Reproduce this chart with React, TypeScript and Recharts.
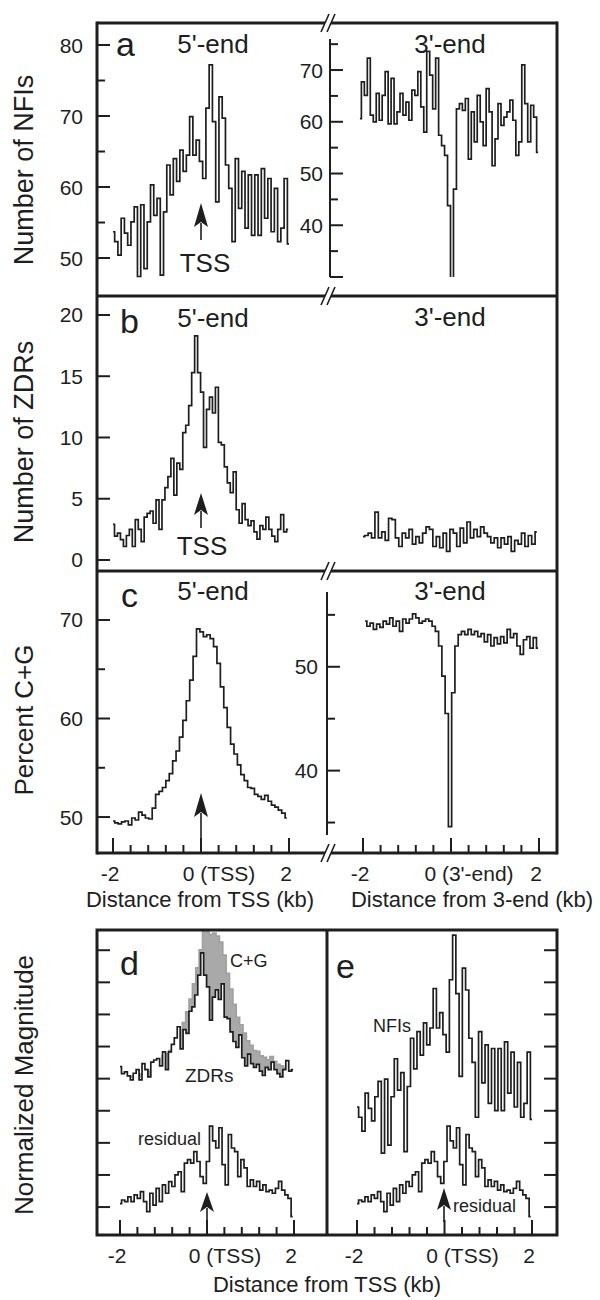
import React from "react";
import { LineChart, AreaChart, Line, Area, XAxis, YAxis } from "recharts";

const PAGE_W = 600;
const PAGE_H = 1300;
const FONT = "'Liberation Sans', Arial, Helvetica, sans-serif";
const INK = "#1e1e1e";

// NFIs per bin around the 5'-end (TSS), -2..2 kb
const nfi5 = [53.7, 52.3, 50.4, 55.6, 53.5, 51.8, 55.1, 57.2, 47.4, 57.5, 48.5, 55.1, 60.3, 56, 58.4, 47.6, 56.5, 63.1, 58.9, 64, 60.8, 65.2, 62.2, 64.5, 69.9, 64.5, 66.6, 63.6, 61.2, 71.1, 77.2, 69.2, 57.9, 72.7, 69.7, 63.1, 59.8, 52.3, 64, 57, 62.2, 54.2, 61.7, 53.2, 61.7, 53.2, 62.6, 55.6, 61.2, 53.7, 59.8, 52.3, 54.2, 61.2, 52];
// NFIs around the 3'-end
const nfi3 = [60.6, 67.7, 65.1, 72.3, 61.3, 60, 65.5, 60.3, 65.1, 69.7, 59.6, 68.4, 59.6, 61.9, 65.5, 61.3, 63.8, 60.3, 66.1, 65.1, 69.7, 62.9, 58, 73.6, 69, 62.5, 72.3, 57.4, 55.4, 53.5, 43.8, 29.5, 47, 62.5, 63.5, 62.2, 64.5, 52.8, 61.9, 56.1, 65.1, 60, 55.4, 66.4, 61.9, 51.5, 56.7, 63.5, 59.3, 60.9, 61.9, 64.2, 60.3, 53.5, 56.1, 71, 63.5, 56.1, 63.2, 60.9, 54.1];
// ZDRs
const zdr5 = [2.9, 1.95, 2.2, 1.66, 1.1, 2.0, 2.5, 1.1, 3.3, 2.5, 1.5, 3.5, 3.8, 4.0, 3.0, 4.9, 2.5, 4.9, 5.9, 6.8, 8.3, 5.3, 7.9, 7.4, 10.4, 11.0, 12.6, 15.3, 18.3, 15.3, 13.7, 9.2, 12.3, 13.3, 12.0, 14.1, 9.6, 9.4, 7.6, 6.3, 5.5, 7.2, 4.1, 3.0, 4.6, 3.3, 2.8, 3.2, 2.3, 1.7, 2.8, 2.5, 3.5, 2.5, 1.95, 1.5, 2.5, 3.7, 2.3, 2.5];
const zdr3 = [1.9, 2.0, 2.2, 1.8, 3.9, 1.8, 2.3, 1.6, 3.4, 3.3, 1.8, 1.1, 2.2, 1.8, 2.5, 1.3, 1.9, 1.4, 2.2, 2.7, 2.5, 1.1, 1.9, 1.0, 2.2, 0.7, 2.5, 2.2, 1.1, 2.6, 1.4, 3.1, 1.8, 2.5, 1.9, 2.7, 2.2, 1.9, 1.4, 1.8, 1.0, 1.8, 1.3, 1.9, 0.7, 1.6, 1.3, 2.2, 1.1, 2.0, 1.3, 2.3];
// percent C+G
const cg5 = [49.6, 49.4, 49.3, 49.5, 49.6, 49.2, 49.9, 49.7, 50.5, 50.2, 49.9, 49.8, 50.9, 52.3, 52.6, 53.0, 53.7, 54.4, 55.7, 56.7, 58.1, 59.8, 61.8, 63.9, 66.3, 69.1, 68.8, 68.3, 68.5, 68.1, 67.3, 65.6, 63.2, 61.1, 59.1, 57.4, 56.4, 55.3, 54.3, 53.7, 53.0, 52.9, 52.3, 52.1, 51.8, 52.2, 51.6, 51.2, 51.0, 50.7, 50.4, 49.9];
const cg3 = [54.4, 53.9, 54.2, 53.6, 54.1, 53.8, 54.4, 54.1, 54.7, 53.9, 54.4, 53.4, 54.6, 54.2, 54.6, 55.1, 54.7, 54.2, 54.4, 54.6, 54.4, 53.9, 53.4, 52.0, 49.1, 45.5, 34.6, 47.5, 52.0, 53.1, 53.4, 53.1, 53.6, 53.1, 53.4, 52.9, 53.2, 52.4, 53.1, 52.0, 52.8, 52.2, 52.9, 52.3, 53.6, 52.8, 53.2, 52.0, 51.2, 52.6, 52.9, 51.8, 52.8, 51.8];
// residual (normalized units)
const residual = [0.11, 0.22, 0.17, 0.32, 0.17, 0.38, 0.27, 0.48, 0.17, -0.14, 0.43, 0.06, 0.58, 0.17, 0.69, 0.43, 0.79, 0.64, 1.0, 1.1, 0.48, 1.37, 1.48, 1.37, 1.73, 1.42, 0.95, 0.74, 1.42, 2.52, 2.06, 1.84, 2.47, 1.32, 0.69, 2.26, 1.84, 1.73, 0.95, 1.48, 1.22, 0.64, 0.85, 0.64, 0.8, 0.53, 0.69, 0.48, 0.53, 0.43, 0.58, 0.8, 0.53, 0.38, 0.27, -0.3];

const kbTicks = [-2, -1.6, -1.2, -0.8, -0.4, 0, 0.4, 0.8, 1.2, 1.6, 2];
const nfi5Ticks = [50, 55, 60, 65, 70, 75, 80];
const nfi5Labels = [50, 60, 70, 80];
const nfi3Ticks = [30, 35, 40, 45, 50, 55, 60, 65, 70, 75];
const nfi3Labels = [40, 50, 60, 70];
const zdrTicks = [0, 5, 10, 15, 20];
const cg5Ticks = [50, 55, 60, 65, 70];
const cg5Labels = [50, 60, 70];
const cg3Ticks = [35, 40, 45, 50, 55];
const cg3Labels = [40, 50];
const normTicks = [0, 1, 2, 3, 4, 5, 6, 7, 8];

// bin centres spread evenly between first and last bin
function bins(values: number[], x0: number, x1: number) {
  const step = (x1 - x0) / (values.length - 1);
  return values.map((v, i) => ({ x: x0 + i * step, v }));
}

type Box = { l: number; t: number; r: number; b: number };
type YAx = { x: number; dir: number; ticks: number[]; major: number[]; labels: number[]; labelX?: number };
type XAx = { y: number; labels: Record<string, string> };

function Trace(props: {
  box: Box;
  xDomain: number[];
  yDomain: number[];
  values: number[];
  range: number[];
  area?: boolean;
  fill?: string;
  stroke?: string;
  base?: number;
  yAxis?: YAx;
  xAxis?: XAx;
}) {
  const { box, xDomain, yDomain, values, range, area, fill, stroke, base, yAxis, xAxis } = props;
  const data = bins(values, range[0], range[1]);
  // axes take 1px each (a 0px axis is not drawn), so the margins give that pixel back
  const margin = { left: box.l - 1, top: box.t, right: PAGE_W - box.r, bottom: PAGE_H - box.b - 1 };

  const yTick = (p: any) => {
    if (!yAxis) return <g />;
    const v = p.payload.value;
    const len = yAxis.major.includes(v) ? 13 : 8;
    return (
      <g>
        <line x1={yAxis.x} x2={yAxis.x + yAxis.dir * len} y1={p.y} y2={p.y} stroke={INK} strokeWidth={2} />
        {yAxis.labels.includes(v) && (
          <text x={yAxis.labelX} y={p.y + 7.5} textAnchor="end" fontSize={21} fontFamily={FONT} fill={INK}>
            {v}
          </text>
        )}
      </g>
    );
  };

  const xTick = (p: any) => {
    if (!xAxis) return <g />;
    const v = Math.round(p.payload.value * 10) / 10;
    const major = v === -2 || v === 0 || v === 2;
    const lab = xAxis.labels[String(v)];
    return (
      <g>
        <line x1={p.x} x2={p.x} y1={xAxis.y} y2={xAxis.y - (major ? 15 : 8)} stroke={INK} strokeWidth={2} />
        {lab && (
          <text
            x={v === 0 ? p.x + 18 : p.x - 3}
            y={xAxis.y + 28}
            textAnchor="middle"
            fontSize={21}
            fontFamily={FONT}
            fill={INK}
          >
            {lab}
          </text>
        )}
      </g>
    );
  };

  const axes = [
    <XAxis
      key="x"
      type="number"
      dataKey="x"
      domain={xDomain}
      allowDataOverflow
      ticks={kbTicks}
      interval={0}
      height={1}
      axisLine={false}
      tickLine={false}
      tick={xAxis ? xTick : false}
    />,
    <YAxis
      key="y"
      type="number"
      domain={yDomain}
      allowDataOverflow
      ticks={yAxis ? yAxis.ticks : [0]}
      interval={0}
      width={1}
      axisLine={false}
      tickLine={false}
      tick={yAxis ? yTick : false}
    />,
  ];

  return (
    <div style={{ position: "absolute", left: 0, top: 0 }}>
      {area ? (
        <AreaChart width={PAGE_W} height={PAGE_H} data={data} margin={margin}>
          {axes}
          <Area
            type="step"
            dataKey="v"
            baseValue={base}
            fill={fill}
            fillOpacity={1}
            stroke={stroke || "none"}
            strokeWidth={1.7}
            dot={false}
            isAnimationActive={false}
          />
        </AreaChart>
      ) : (
        <LineChart width={PAGE_W} height={PAGE_H} data={data} margin={margin}>
          {axes}
          <Line type="step" dataKey="v" stroke={INK} strokeWidth={1.7} dot={false} isAnimationActive={false} />
        </LineChart>
      )}
    </div>
  );
}

function BreakMark({ x, y }: { x: number; y: number }) {
  return (
    <g>
      <polygon points={`${x - 8},${y + 9} ${x},${y - 9} ${x + 6},${y - 9} ${x - 2},${y + 9}`} fill="#fff" />
      <line x1={x - 8} y1={y + 9} x2={x} y2={y - 9} stroke={INK} strokeWidth={1.6} />
      <line x1={x - 2} y1={y + 9} x2={x + 6} y2={y - 9} stroke={INK} strokeWidth={1.6} />
    </g>
  );
}

function Arrow({ x, tip, base, end }: { x: number; tip: number; base: number; end: number }) {
  return (
    <g>
      <line x1={x} x2={x} y1={base - 2} y2={end} stroke={INK} strokeWidth={1.6} />
      <polygon points={`${x},${tip} ${x - 7},${base + 2} ${x},${base - 3} ${x + 7},${base + 2}`} fill={INK} />
    </g>
  );
}

function T(props: { x: number; y: number; size: number; children: string; anchor?: string; rotate?: boolean }) {
  const { x, y, size, children, anchor, rotate } = props;
  return (
    <text
      x={x}
      y={y}
      fontSize={size}
      fontFamily={FONT}
      fill={INK}
      textAnchor={anchor || "start"}
      transform={rotate ? `rotate(-90 ${x} ${y})` : undefined}
      dominantBaseline={rotate ? "central" : undefined}
    >
      {children}
    </text>
  );
}

function Overlay() {
  const L = 97, R = 557, M = 329;
  const rows = [23, 296, 571, 853];
  return (
    <svg width={PAGE_W} height={PAGE_H} style={{ position: "absolute", left: 0, top: 0 }}>
      {/* top block frame */}
      <line x1={L} x2={L} y1={21.5} y2={854.5} stroke={INK} strokeWidth={3} />
      <line x1={R} x2={R} y1={21.5} y2={854.5} stroke={INK} strokeWidth={3} />
      {rows.map((y) => (
        <line key={y} x1={L} x2={R} y1={y} y2={y} stroke={INK} strokeWidth={3} />
      ))}
      {rows.map((y) => (
        <BreakMark key={"b" + y} x={M} y={y} />
      ))}
      <line x1={330} x2={330} y1={39} y2={277} stroke={INK} strokeWidth={2} />
      <line x1={327} x2={327} y1={592} y2={835} stroke={INK} strokeWidth={2} />

      {/* bottom block frame */}
      <rect x={L} y={930} width={R - L} height={305} fill="none" stroke={INK} strokeWidth={3} />
      <line x1={327} x2={327} y1={930} y2={1235} stroke={INK} strokeWidth={3} />

      {/* panel letters and headings */}
      <T x={116} y={56} size={34}>a</T>
      <T x={213} y={53} size={26} anchor="middle">5'-end</T>
      <T x={450} y={53} size={26} anchor="middle">3'-end</T>
      <T x={120} y={333} size={34}>b</T>
      <T x={213} y={327} size={26} anchor="middle">5'-end</T>
      <T x={450} y={326} size={26} anchor="middle">3'-end</T>
      <T x={121} y={607} size={34}>c</T>
      <T x={213} y={600} size={26} anchor="middle">5'-end</T>
      <T x={450} y={600} size={26} anchor="middle">3'-end</T>

      <T x={205} y={272} size={26} anchor="middle">TSS</T>
      <T x={202} y={555} size={26} anchor="middle">TSS</T>
      <Arrow x={201} tip={203} base={225} end={240} />
      <Arrow x={201} tip={493} base={513} end={528} />
      <Arrow x={201} tip={793} base={815} end={838} />

      {/* axis titles */}
      <T x={24} y={170} size={27} anchor="middle" rotate>Number of NFIs</T>
      <T x={24} y={442} size={27} anchor="middle" rotate>Number of ZDRs</T>
      <T x={24} y={720} size={26} anchor="middle" rotate>Percent C+G</T>
      <T x={24} y={1085} size={26} anchor="middle" rotate>Normalized Magnitude</T>
      <T x={200} y={907} size={22} anchor="middle">Distance from TSS (kb)</T>
      <T x={472} y={907} size={22} anchor="middle">Distance from 3-end (kb)</T>
      <T x={327} y={1292} size={22} anchor="middle">Distance from TSS (kb)</T>

      {/* d / e annotations */}
      <T x={120} y={975} size={34}>d</T>
      <T x={230} y={967} size={18}>C+G</T>
      <T x={185} y={1082} size={19}>ZDRs</T>
      <T x={138} y={1145} size={18}>residual</T>
      <Arrow x={207} tip={1192} base={1210} end={1224} />
      <T x={336} y={978} size={34}>e</T>
      <T x={373} y={1032} size={18}>NFIs</T>
      <T x={453} y={1212} size={18}>residual</T>
      <Arrow x={444} tip={1188} base={1208} end={1222} />
    </svg>
  );
}

export default function App() {
  const leftX = [-2.364, 2.886];
  const rightX = [-2.795, 2.409];
  const dBox = { l: 97, t: 930, r: 327, b: 1235 };
  const eBox = { l: 327, t: 930, r: 557, b: 1235 };
  const dX = [-2.529, 2.759];
  const eX = [-2.686, 2.571];
  const normDomain = [-0.87, 8.63];
  const tssLabels = { "-2": "-2", "0": "0 (TSS)", "2": "2" };
  return (
    <div style={{ position: "absolute", left: 0, top: 0, width: PAGE_W, height: PAGE_H, background: "#fff", overflow: "hidden" }}>
      {/* a */}
      <Trace
        box={{ l: 97, t: 23, r: 328, b: 296 }}
        xDomain={leftX}
        yDomain={[44.65, 83.1]}
        values={nfi5}
        range={[-2, 2]}
        yAxis={{ x: 97, dir: 1, ticks: nfi5Ticks, major: nfi5Labels, labels: nfi5Labels, labelX: 83 }}
      />
      <Trace
        box={{ l: 328, t: 39, r: 557, b: 277 }}
        xDomain={rightX}
        yDomain={[30, 76]}
        values={nfi3}
        range={[-2.07, 1.98]}
        yAxis={{ x: 330, dir: 1, ticks: nfi3Ticks, major: [30, ...nfi3Labels], labels: nfi3Labels, labelX: 323 }}
      />
      {/* b */}
      <Trace
        box={{ l: 97, t: 296, r: 328, b: 571 }}
        xDomain={leftX}
        yDomain={[-0.9, 21.55]}
        values={zdr5}
        range={[-2, 1.98]}
        yAxis={{ x: 97, dir: 1, ticks: zdrTicks, major: zdrTicks, labels: zdrTicks, labelX: 83 }}
      />
      <Trace box={{ l: 328, t: 296, r: 557, b: 571 }} xDomain={rightX} yDomain={[-0.9, 21.55]} values={zdr3} range={[-2, 1.95]} />
      {/* c */}
      <Trace
        box={{ l: 97, t: 571, r: 328, b: 853 }}
        xDomain={leftX}
        yDomain={[46.35, 74.97]}
        values={cg5}
        range={[-2, 1.95]}
        yAxis={{ x: 97, dir: 1, ticks: cg5Ticks, major: cg5Labels, labels: cg5Labels, labelX: 83 }}
        xAxis={{ y: 853, labels: tssLabels }}
      />
      <Trace
        box={{ l: 327, t: 592, r: 557, b: 835 }}
        xDomain={[-2.818, 2.409]}
        yDomain={[33.8, 57.2]}
        values={cg3}
        range={[-1.95, 1.98]}
        yAxis={{ x: 327, dir: 1, ticks: cg3Ticks, major: cg3Labels, labels: cg3Labels, labelX: 318 }}
        xAxis={{ y: 853, labels: { "-2": "-2", "0": "0 (3'-end)", "2": "2" } }}
      />
      {/* d */}
      <Trace box={dBox} xDomain={dX} yDomain={[28.7, 68.9]} values={cg5} range={[-2, 1.95]} area fill="#a9a9a9" stroke="#a0a0a0" base={49.4} />
      <Trace box={dBox} xDomain={dX} yDomain={[-19.9, 21.4]} values={zdr5} range={[-2, 1.98]} area fill="#fff" stroke={INK} base={0.4} />
      <Trace
        box={dBox}
        xDomain={dX}
        yDomain={normDomain}
        values={residual}
        range={[-2, 1.97]}
        yAxis={{ x: 97, dir: 1, ticks: normTicks, major: normTicks, labels: [] }}
        xAxis={{ y: 1235, labels: tssLabels }}
      />
      {/* e */}
      <Trace box={eBox} xDomain={eX} yDomain={[36.2, 77.9]} values={nfi5} range={[-2, 2]} />
      <Trace
        box={eBox}
        xDomain={eX}
        yDomain={normDomain}
        values={residual}
        range={[-2, 1.97]}
        yAxis={{ x: 557, dir: -1, ticks: normTicks, major: normTicks, labels: [] }}
        xAxis={{ y: 1235, labels: tssLabels }}
      />
      <Overlay />
    </div>
  );
}
